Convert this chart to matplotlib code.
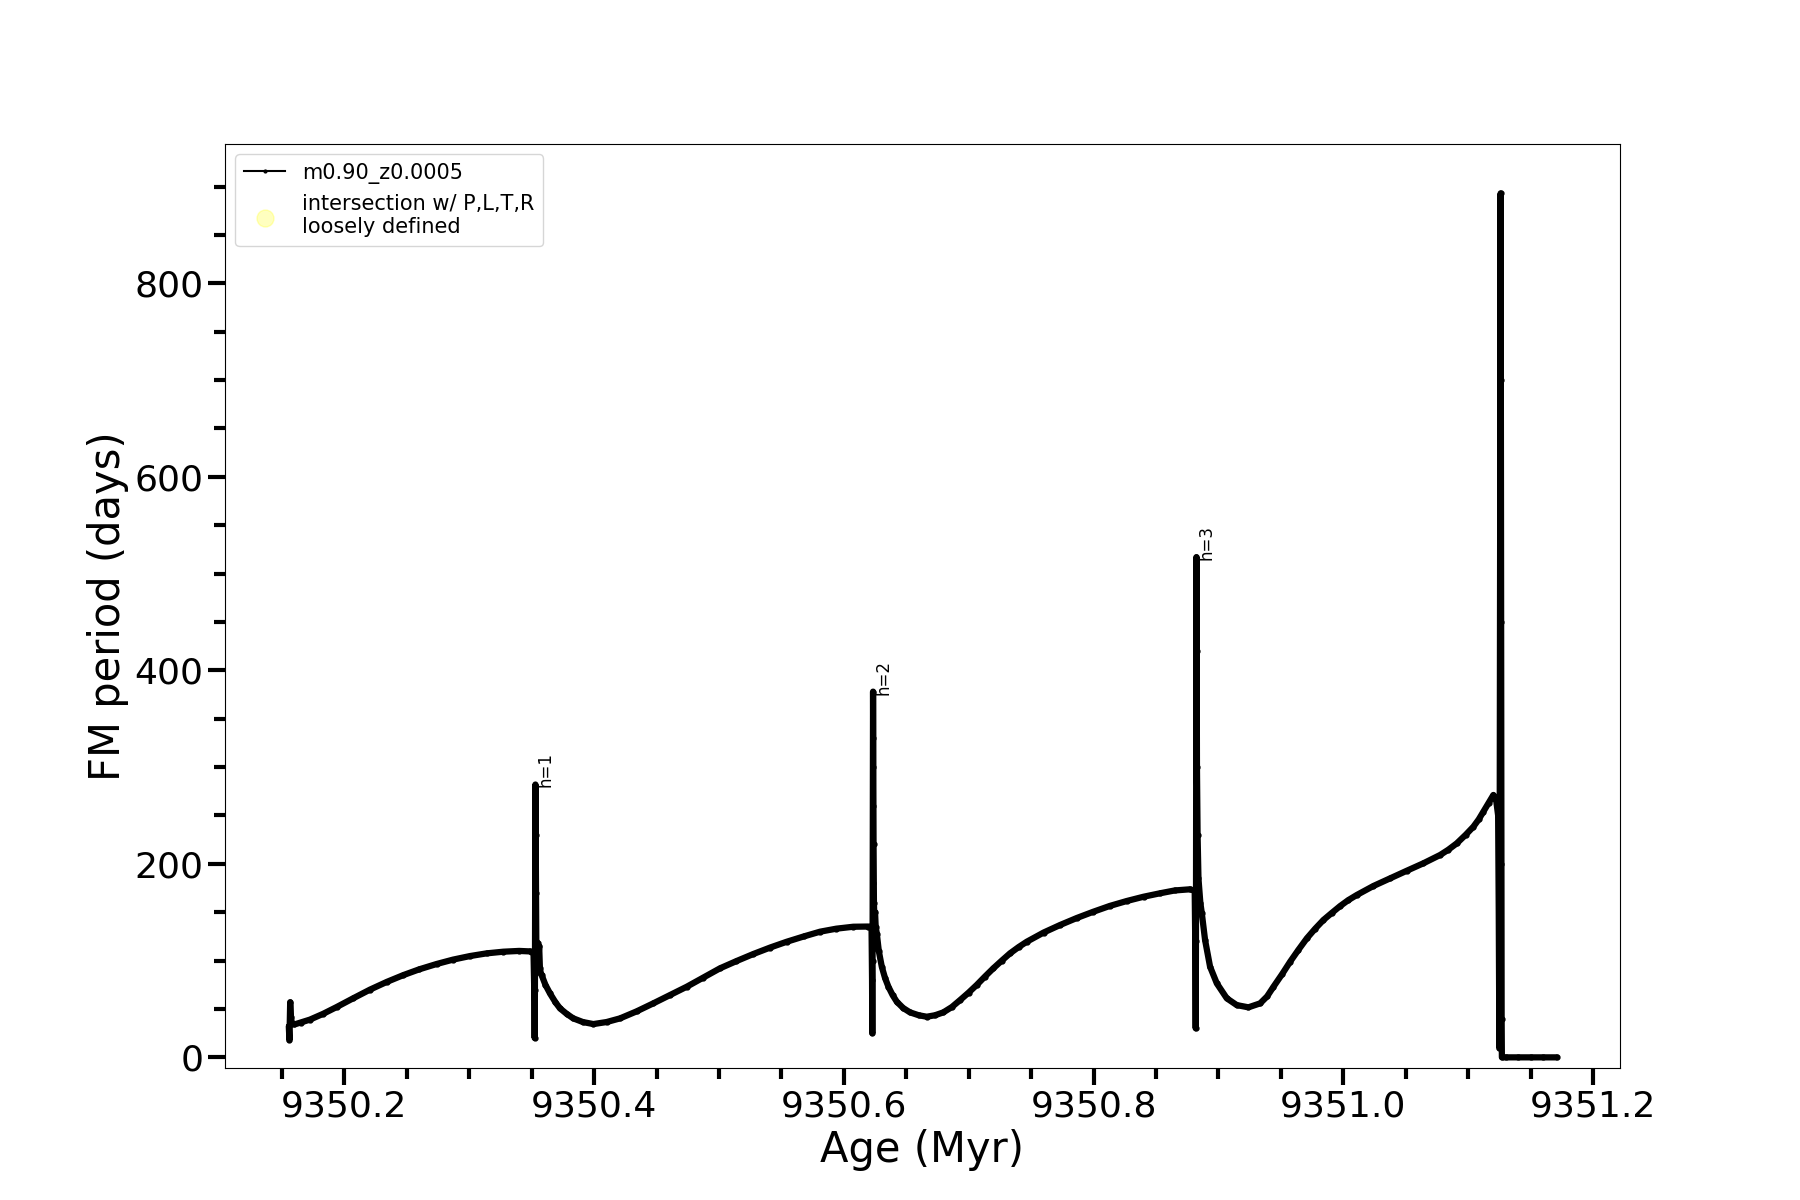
import numpy as np
import matplotlib
matplotlib.use("Agg")
from matplotlib import pyplot as plt
from matplotlib.ticker import MultipleLocator


age = [
    9350.1555, 9350.1560, 9350.1563, 9350.1566, 9350.1572, 9350.1580, 9350.1600,
    9350.1650, 9350.1724, 9350.1830, 9350.1938, 9350.2070, 9350.2205, 9350.2340,
    9350.2472, 9350.2600, 9350.2739, 9350.2870, 9350.3006, 9350.3140, 9350.3273,
    9350.3400, 9350.3487, 9350.3515,
    # pulse 1
    9350.3522, 9350.3524, 9350.3526, 9350.3527, 9350.3528, 9350.3529, 9350.3530,
    9350.3532, 9350.3534, 9350.3537, 9350.3542, 9350.3548, 9350.3553, 9350.3560,
    9350.3566, 9350.3575,
    9350.3580, 9350.3610, 9350.3647, 9350.3690, 9350.3727, 9350.3780, 9350.3833,
    9350.3910, 9350.3994, 9350.4100, 9350.4208, 9350.4340, 9350.4474, 9350.4610,
    9350.4742, 9350.4875, 9350.5008, 9350.5140, 9350.5275, 9350.5410, 9350.5543,
    9350.5680, 9350.5810, 9350.5940, 9350.6076, 9350.6196, 9350.6222,
    # pulse 2
    9350.6226, 9350.6228, 9350.6230, 9350.6231, 9350.6232, 9350.6233, 9350.6234,
    9350.6236, 9350.6238, 9350.6241, 9350.6245, 9350.6250, 9350.6255, 9350.6264,
    9350.6280, 9350.6304, 9350.6330, 9350.6357, 9350.6390, 9350.6424, 9350.6475,
    9350.6530, 9350.6600, 9350.6664, 9350.6730, 9350.6797, 9350.6865, 9350.6931,
    9350.7000, 9350.7064, 9350.7130, 9350.7197, 9350.7265, 9350.7331, 9350.7400,
    9350.7465, 9350.7600, 9350.7732, 9350.7865, 9350.7998, 9350.8130, 9350.8266,
    9350.8400, 9350.8533, 9350.8650, 9350.8773, 9350.8810,
    # pulse 3
    9350.8815, 9350.8818, 9350.8820, 9350.8821, 9350.8822, 9350.8823, 9350.8824,
    9350.8826, 9350.8828, 9350.8833, 9350.8840, 9350.8855, 9350.8867, 9350.8893,
    9350.8933, 9350.8987, 9350.9067, 9350.9147, 9350.9240, 9350.9334, 9350.9390,
    9350.9441, 9350.9510, 9350.9574, 9350.9640, 9350.9708, 9350.9775, 9350.9841,
    9350.9910, 9350.9975, 9351.0040, 9351.0108, 9351.0241, 9351.0375, 9351.0509,
    9351.0642, 9351.0776, 9351.0840, 9351.0909, 9351.0980, 9351.1042, 9351.1085,
    9351.1122, 9351.1165, 9351.1202, 9351.1224, 9351.1240,
    # final pulse
    9351.1245, 9351.1250, 9351.1252, 9351.1254, 9351.1256, 9351.1258, 9351.1260,
    9351.1262, 9351.1264, 9351.1266, 9351.1268, 9351.1270, 9351.1300, 9351.1400,
    9351.1500, 9351.1600, 9351.1710,
]
period = [
    32, 18, 40, 57, 42, 35, 34,
    36, 39, 45, 52, 61, 70, 78,
    85, 91, 96.5, 101, 104.7, 107.5, 109.2,
    110, 109.5, 107,
    60, 20, 70, 130, 190, 240, 282,
    230, 170, 120, 95, 118, 100, 115,
    92, 86,
    85, 75, 66, 57, 50.6, 45, 40.3,
    36.5, 34.4, 36.5, 40.3, 47.5, 55.8, 64.5,
    73, 82.5, 92, 99.5, 106.8, 113.5, 119.5,
    125, 129.9, 133, 135, 135.2, 133,
    80, 25, 100, 180, 260, 330, 378,
    300, 220, 160, 140, 150, 135, 128,
    110, 93.7, 82, 73, 64.5, 57.5, 51,
    46.5, 43.5, 42, 43.5, 46.5, 52, 59.2,
    67, 74.8, 83.5, 92, 100, 107.5, 114,
    119.5, 129, 136.8, 144, 150.5, 156.5, 161.6,
    166, 169.6, 172.5, 173.7, 172,
    110, 30, 120, 220, 320, 420, 517,
    420, 300, 230, 185, 160, 148.9, 121.3,
    93.7, 76.5, 61, 54, 51.7, 55.8, 63,
    73, 86, 98.8, 111, 123, 133, 142,
    149.5, 156.4, 162.5, 167.8, 177.1, 185, 192.9,
    200.6, 209.2, 214.5, 221.2, 230, 238.4, 246,
    253.9, 263, 271.2, 266, 250,
    150, 10, 200, 400, 600, 800, 893,
    700, 450, 200, 40, 0, 0, 0,
    0, 0, 0,
]

# helium flash peaks that get an "h=" tag
peak_age = [9350.3530, 9350.6234, 9350.8824]
peak_period = [282, 378, 517]
peak_names = ["h=1", "h=2", "h=3"]


fig = plt.figure(figsize=(18, 12), dpi=100)
ax = fig.add_subplot(111)

# thick track (many overlapping points in the original)
ax.plot(age, period, color="k", marker=".", markersize=7, linewidth=4.5,
        solid_joinstyle="round", solid_capstyle="round")

# legend entries
ax.plot([], [], color="k", marker=".", markersize=4, linewidth=1.5,
        label="m0.90_z0.0005")
ax.scatter([], [], s=150, color="yellow", alpha=0.25,
           label="intersection w/ P,L,T,R\nloosely defined")

for a, p, n in zip(peak_age, peak_period, peak_names):
    ax.text(a + 0.0008, p - 3, n, rotation=90, fontsize=12,
            ha="left", va="bottom")

ax.set_xlim(9350.1044, 9351.2216)
ax.set_ylim(-11, 944)

ax.xaxis.set_major_locator(MultipleLocator(0.2))
ax.xaxis.set_minor_locator(MultipleLocator(0.05))
ax.yaxis.set_major_locator(MultipleLocator(200))
ax.yaxis.set_minor_locator(MultipleLocator(50))
ax.xaxis.set_major_formatter(plt.FuncFormatter(lambda v, pos: "%.1f" % v))

ax.tick_params(which="major", length=12, width=3, labelsize=26)
ax.tick_params(which="minor", length=8, width=3)

ax.set_xlabel("Age (Myr)", fontsize=30)
ax.set_ylabel("FM period (days)", fontsize=30)

ax.legend(loc="upper left", fontsize=15)

fig.savefig("out.png", dpi=100)
